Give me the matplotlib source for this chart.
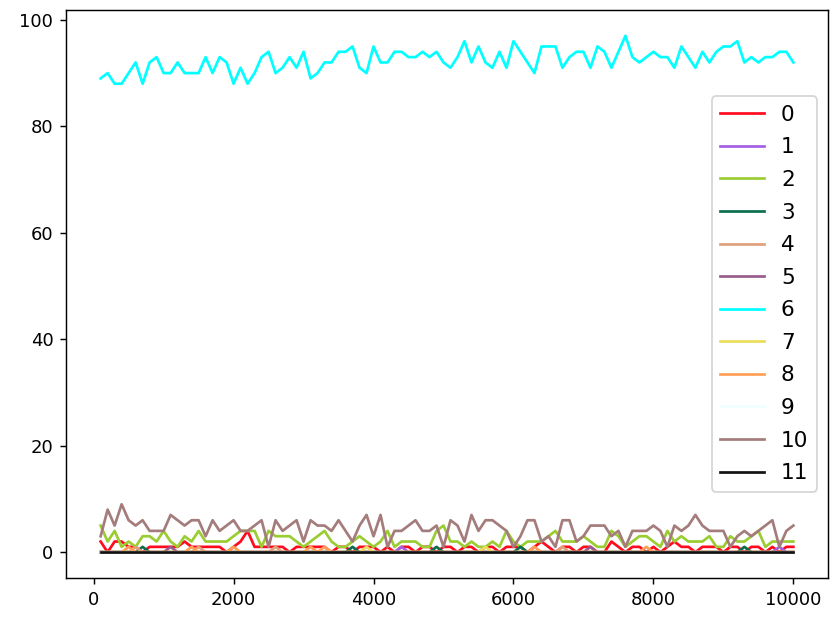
import numpy as np
import matplotlib.pyplot as plt

# x positions (every 100 steps)
steps = list(range(100, 10001, 100))

s0 = [2, 0, 2, 2, 1, 1, 0, 1, 1, 1, 1, 1, 2, 1, 1, 1, 1, 1, 0, 1, 2, 4, 1, 1, 1,
      1, 1, 0, 1, 1, 1, 1, 1, 0, 1, 1, 0, 1, 1, 1, 0, 1, 0, 1, 1, 0, 1, 1, 0, 1,
      1, 0, 1, 1, 0, 1, 1, 0, 1, 1, 1, 0, 1, 2, 1, 0, 1, 1, 0, 1, 1, 0, 0, 2, 1,
      0, 1, 1, 0, 1, 0, 1, 2, 1, 1, 0, 1, 1, 1, 0, 1, 1, 0, 1, 1, 0, 1, 0, 1, 1]
s1 = [0, 0, 0, 0, 0, 0, 0, 0, 0, 0, 0, 0, 0, 0, 0, 0, 0, 0, 0, 0, 0, 0, 0, 0, 0,
      0, 0, 0, 0, 0, 0, 0, 0, 0, 0, 0, 0, 0, 0, 0, 0, 0, 0, 1, 0, 0, 0, 0, 0, 0,
      0, 0, 0, 0, 0, 0, 0, 0, 0, 0, 0, 0, 0, 0, 0, 0, 0, 0, 0, 0, 0, 0, 0, 0, 0,
      0, 0, 0, 0, 0, 0, 0, 0, 0, 0, 0, 0, 0, 0, 0, 0, 0, 0, 0, 0, 0, 0, 1, 0, 0]
s2 = [5, 2, 4, 1, 2, 1, 3, 3, 2, 4, 2, 1, 3, 2, 4, 2, 2, 2, 2, 3, 4, 4, 4, 1, 4,
      3, 3, 3, 2, 1, 2, 3, 4, 2, 1, 1, 2, 3, 2, 1, 2, 4, 1, 2, 2, 2, 1, 1, 4, 5,
      2, 2, 1, 2, 1, 1, 2, 1, 4, 2, 1, 2, 2, 2, 3, 4, 2, 2, 2, 3, 2, 1, 1, 4, 3,
      1, 2, 3, 3, 2, 1, 4, 2, 3, 2, 2, 2, 3, 1, 1, 3, 2, 2, 3, 4, 1, 2, 2, 2, 2]
s3 = [0, 0, 0, 0, 0, 0, 1, 0, 0, 0, 0, 0, 0, 0, 0, 0, 0, 0, 0, 0, 0, 0, 0, 0, 0,
      0, 0, 0, 0, 0, 0, 0, 0, 0, 0, 0, 1, 0, 0, 0, 0, 0, 0, 0, 0, 0, 0, 0, 1, 0,
      0, 0, 0, 0, 0, 0, 0, 0, 0, 0, 1, 0, 0, 0, 0, 0, 0, 0, 0, 0, 0, 0, 0, 0, 0,
      0, 0, 0, 0, 0, 0, 0, 0, 0, 0, 0, 0, 0, 0, 0, 0, 0, 1, 0, 0, 0, 0, 0, 0, 0]
s4 = [0, 0, 0, 0, 0, 1, 0, 0, 0, 0, 0, 0, 0, 0, 1, 0, 0, 0, 0, 0, 0, 0, 0, 0, 0,
      1, 0, 0, 0, 0, 0, 0, 0, 0, 0, 0, 0, 0, 0, 0, 0, 0, 0, 0, 0, 0, 0, 0, 0, 0,
      0, 0, 0, 0, 0, 0, 0, 0, 0, 0, 0, 0, 0, 0, 0, 0, 1, 0, 0, 0, 0, 0, 0, 0, 0,
      0, 0, 0, 0, 0, 0, 0, 0, 0, 0, 0, 0, 0, 0, 0, 0, 0, 0, 0, 0, 0, 0, 0, 0, 0]
s5 = [0, 0, 0, 0, 0, 0, 0, 0, 0, 0, 1, 0, 0, 0, 0, 0, 0, 0, 0, 0, 0, 0, 0, 0, 0,
      0, 0, 0, 0, 0, 0, 0, 0, 0, 0, 0, 0, 0, 0, 0, 0, 0, 0, 0, 0, 0, 0, 0, 0, 0,
      0, 0, 0, 0, 0, 0, 0, 0, 0, 0, 0, 0, 0, 0, 0, 0, 0, 0, 0, 0, 1, 0, 0, 0, 0,
      0, 0, 0, 0, 0, 0, 0, 0, 0, 0, 0, 0, 0, 0, 0, 0, 0, 0, 0, 0, 0, 0, 0, 0, 0]
s6 = [89, 90, 88, 88, 90, 92, 88, 92, 93, 90, 90, 92, 90, 90, 90, 93, 90, 93, 92, 88,
      91, 88, 90, 93, 94, 90, 91, 93, 91, 94, 89, 90, 92, 92, 94, 94, 95, 91, 90, 95,
      92, 92, 94, 94, 93, 93, 94, 93, 94, 92, 91, 93, 96, 92, 95, 92, 91, 94, 91, 96,
      94, 92, 90, 95, 95, 95, 91, 93, 94, 94, 91, 95, 94, 91, 94, 97, 93, 92, 93, 94,
      93, 93, 91, 95, 93, 91, 94, 92, 94, 95, 95, 96, 92, 93, 92, 93, 93, 94, 94, 92]
s7 = [0, 0, 0, 0, 0, 0, 0, 0, 0, 0, 0, 0, 0, 0, 0, 0, 0, 0, 0, 0, 0, 0, 0, 0, 0,
      0, 0, 0, 0, 0, 0, 0, 0, 0, 0, 0, 0, 0, 1, 0, 0, 0, 0, 0, 0, 0, 0, 0, 0, 0,
      0, 0, 0, 0, 0, 1, 0, 0, 0, 0, 0, 0, 0, 0, 0, 0, 0, 0, 0, 0, 0, 0, 0, 0, 0,
      0, 0, 0, 0, 0, 0, 0, 0, 0, 0, 0, 0, 0, 0, 0, 0, 0, 0, 0, 0, 0, 0, 0, 0, 0]
s8 = [0, 0, 0, 0, 1, 0, 0, 0, 0, 0, 0, 0, 0, 1, 0, 0, 0, 0, 0, 1, 0, 0, 0, 0, 0,
      0, 0, 0, 0, 0, 1, 0, 1, 0, 0, 0, 0, 0, 0, 0, 0, 0, 0, 0, 0, 0, 0, 0, 0, 0,
      0, 0, 0, 0, 0, 0, 0, 0, 0, 0, 0, 0, 1, 0, 0, 0, 0, 0, 0, 0, 0, 0, 0, 0, 0,
      0, 0, 0, 1, 0, 0, 0, 0, 0, 0, 0, 0, 0, 0, 0, 0, 0, 0, 0, 0, 0, 0, 0, 0, 0]
s9 = [0] * 100
s10 = [3, 8, 5, 9, 6, 5, 6, 4, 4, 4, 7, 6, 5, 6, 6, 3, 6, 4, 5, 6, 4, 4, 5, 6, 1,
       6, 4, 5, 6, 2, 6, 5, 5, 4, 6, 4, 2, 5, 7, 3, 7, 1, 4, 4, 5, 6, 4, 4, 5, 1,
       6, 5, 2, 7, 4, 6, 6, 5, 4, 1, 3, 6, 6, 2, 3, 1, 6, 6, 2, 3, 5, 5, 5, 3, 4,
       1, 4, 4, 4, 5, 4, 1, 5, 4, 5, 7, 5, 4, 4, 4, 1, 3, 4, 3, 4, 5, 6, 1, 4, 5]
s11 = [0] * 100

series = [s0, s1, s2, s3, s4, s5, s6, s7, s8, s9, s10, s11]
colors = ['#ff0a1e', '#a45ee5', '#9acd32', '#0b6e4f', '#dfa07c', '#985c8c',
          '#00ffff', '#ecdc5c', '#ff9f55', '#f0ffff', '#a57c7c', '#111111']

fig = plt.figure(figsize=(6.4, 619 / 130), dpi=130)
ax = fig.add_axes([66 / 832, 1 - 578 / 619, 762 / 832, 568 / 619])

for i, (vals, c) in enumerate(zip(series, colors)):
    ax.plot(steps, vals, color=c, label=str(i))

ax.legend(loc='center right', fontsize=12, labelspacing=0.58)

plt.savefig('out.png', dpi=130)
plt.close()
